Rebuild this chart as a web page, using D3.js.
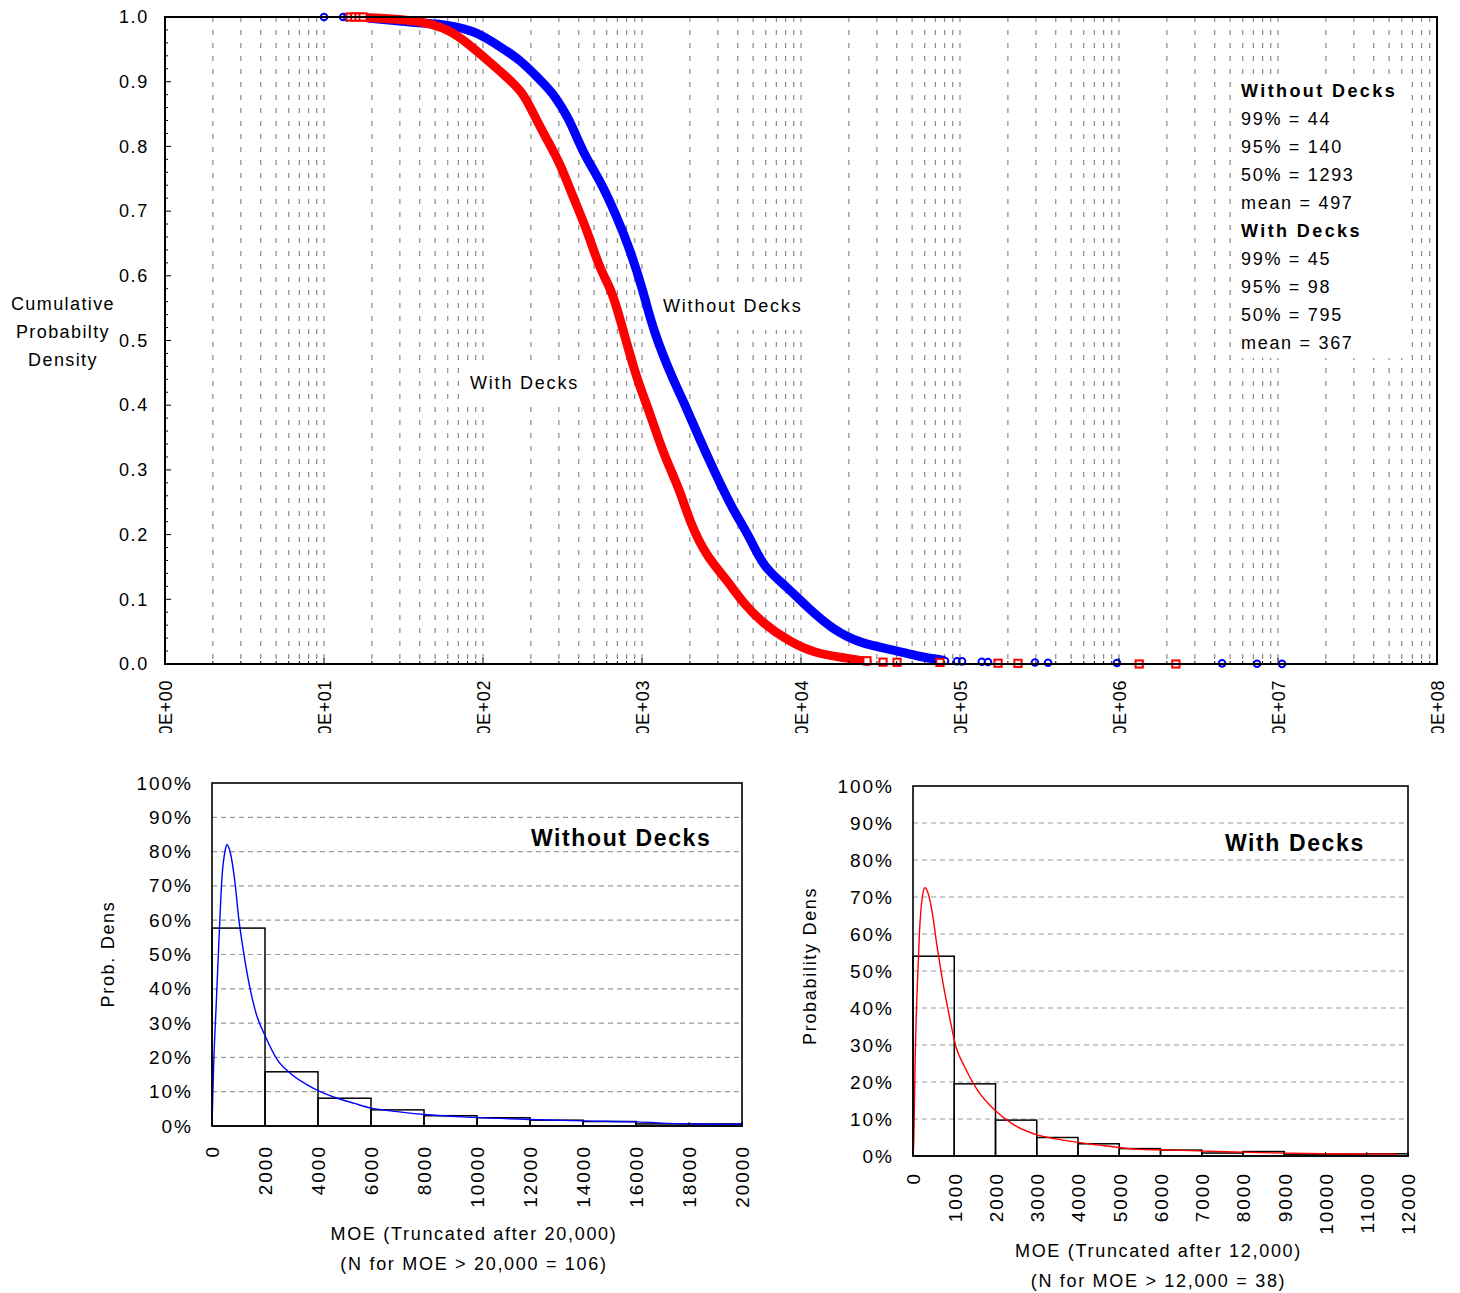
<!DOCTYPE html>
<html>
<head>
<meta charset="utf-8">
<script src="https://cdn.jsdelivr.net/npm/d3@7"></script>
<style>
body { margin: 0; background: #fff; }
svg text { font-family: Arial, "Liberation Sans", sans-serif; fill: #000; }
</style>
</head>
<body>
<svg id="chart" width="1460" height="1293"></svg>
<script>
// Exceedance curves, [MOE, cumulative probability]
var withoutDecksCdf = [[19.5,0.998],[38.5,0.991],[62,0.988],[91.7,0.977],[128,0.954],[171,0.934],[228,0.903],[275,0.883],
    [352,0.841],[425,0.790],[544,0.748],[696,0.691],[841,0.640],[1014,0.578],[1172,0.516],[1567,0.439],
    [1812,0.408],[2317,0.346],[2963,0.289],[3735,0.238],[4775,0.196],[5768,0.150],[8165,0.119],[10910,0.088],
    [15900,0.053],[23500,0.032],[37900,0.022],[56000,0.011],[78100,0.006]]
var withDecksCdf = [[18.6,0.999],[40.2,0.995],[62,0.980],[79.3,0.960],[106,0.934],[141.5,0.907],[178.5,0.883],[206,0.852],
    [253,0.810],[305,0.774],[368,0.722],[451,0.671],[544,0.609],[648,0.578],[760,0.516],[931,0.439],[1122,0.388],
    [1355,0.326],[1733,0.269],[2004,0.218],[2563,0.165],[3425,0.130],[4318,0.094],[5768,0.063],[8165,0.037],
    [11900,0.017],[19500,0.009],[26000,0.004]]

// Isolated markers at both ends of the curves
var withoutDecksPoints = [[10,1.0],[13.2,1.0],[14.0,0.9995],[80500,0.0046],[95800,0.0042],[103000,0.0040],[137000,0.0035],
    [150000,0.0032],[296000,0.0024],[358000,0.0020],[971000,0.0016],[4450000,0.0010],[7380000,0.0005],[10600000,0.0002]]
var withDecksPoints = [[14.6,1.0],[15.6,1.0],[16.6,1.0],[17.6,1.0],[26000,0.005],[32800,0.0028],[40200,0.0026],
    [74800,0.0024],[173500,0.0012],[231500,0.001],[1340000,0.0],[2280000,0.0]]

var topXTicks = [1,1e1,1e2,1e3,1e4,1e5,1e6,1e7,1e8]
var topXLabels = ["1.0E+00","1.0E+01","1.0E+02","1.0E+03","1.0E+04","1.0E+05","1.0E+06","1.0E+07","1.0E+08"]
var topYTicks = [0,0.1,0.2,0.3,0.4,0.5,0.6,0.7,0.8,0.9,1.0]

var statLines = [["Without Decks",true],["99% = 44",false],["95% = 140",false],["50% = 1293",false],["mean = 497",false],
    ["With Decks",true],["99% = 45",false],["95% = 98",false],["50% = 795",false],["mean = 367",false]]

// Histograms (bin start, height in %), and fitted density lines
var withoutBinWidth = 2000
var withoutBinStarts = [0,2000,4000,6000,8000,10000,12000,14000,16000,18000]
var withoutBinValues = [57.7,15.8,8.1,4.7,3.0,2.4,1.7,1.3,0.6,0.6]
var withoutDensity = [[0,0],[30,9],[60,17],[161,35.8],[258,53.3],[371,71.8],[500,80.5],[565,82],[694,79.6],[855,71.8],
    [1016,60.1],[1177,51.4],[1419,40.7],[1661,32.9],[2016,26.1],[2468,19.3],[2952,15.4],[3597,12.0],[4081,10.0],
    [4726,8.1],[5371,6.6],[6016,5.2],[6984,4.2],[8274,3.2],[9887,2.5],[11984,1.9],[14000,1.5],[16016,1.2],
    [17952,0.6],[20000,0.5]]
var withoutXTicks = [0,2000,4000,6000,8000,10000,12000,14000,16000,18000,20000]

var withBinWidth = 1000
var withBinStarts = [0,1000,2000,3000,4000,5000,6000,7000,8000,9000,10000,11000]
var withBinValues = [54.0,19.5,9.7,5.0,3.3,2.0,1.6,0.8,1.2,0.5,0.5,0.6]
var withDensity = [[0,0],[21,5.2],[52,26],[104,45.8],[156,60.3],[229,70.2],[291,72.5],[364,71.1],[468,65.7],[571,57.6],
    [727,46.8],[883,37.7],[1039,29.6],[1247,24.2],[1558,17.9],[1974,12.5],[2390,8.8],[3013,5.7],[3636,4.3],
    [4468,3.0],[5506,1.8],[6338,1.6],[7377,1.2],[8416,0.9],[9974,0.6],[11740,0.5]]
var withXTicks = [0,1000,2000,3000,4000,5000,6000,7000,8000,9000,10000,11000,12000]

var pctTicks = [0,10,20,30,40,50,60,70,80,90,100]

var svg = d3.select("#chart")
var defs = svg.append("defs")

function styleText(sel, size, spacing, bold) {
    sel.style("font-size", size + "px")
        .style("letter-spacing", spacing + "px")
        .style("font-weight", bold ? "bold" : "normal")
}

// ---------- top chart ----------
var x = d3.scaleLog().domain([1, 1e8]).range([165, 1437])
var y = d3.scaleLinear().domain([0, 1]).range([664, 17])

// vertical dashed grid at every log tick
svg.append("g").selectAll("line")
    .data(x.ticks().filter(d => d > 1 && d < 1e8))
    .enter().append("line")
    .attr("x1", d => x(d)).attr("x2", d => x(d))
    .attr("y1", y(1)).attr("y2", y(0))
    .style("stroke", "#8a8a8a")
    .style("stroke-width", 1.2)
    .style("stroke-dasharray", "5,8")

// white boxes behind the labels
svg.append("rect").attr("x", 1236).attr("y", 77).attr("width", 172).attr("height", 281).style("fill", "#fff")
svg.append("rect").attr("x", 656).attr("y", 287).attr("width", 153).attr("height", 43).style("fill", "#fff")
svg.append("rect").attr("x", 465).attr("y", 366).attr("width", 120).attr("height", 34).style("fill", "#fff")

var cdfLine = d3.line()
    .x(d => x(d[0]))
    .y(d => y(d[1]))
    .curve(d3.curveBasis)

function drawCdf(data, points, color, shape) {
    svg.append("path")
        .datum(data)
        .attr("d", cdfLine)
        .style("fill", "none")
        .style("stroke", color)
        .style("stroke-width", 9)
        .style("stroke-linejoin", "round")
        .style("stroke-linecap", "round")
    var g = svg.append("g")
    if (shape === "circle") {
        g.selectAll("circle").data(points).enter().append("circle")
            .attr("cx", d => x(d[0])).attr("cy", d => y(d[1])).attr("r", 3.3)
            .style("fill", "#fff").style("stroke", color).style("stroke-width", 2)
    } else {
        g.selectAll("rect").data(points).enter().append("rect")
            .attr("x", d => x(d[0]) - 3.6).attr("y", d => y(d[1]) - 3.6)
            .attr("width", 7.2).attr("height", 7.2)
            .style("fill", "#fff").style("stroke", color).style("stroke-width", 2)
    }
}
drawCdf(withoutDecksCdf, withoutDecksPoints, "#0000ff", "circle")
drawCdf(withDecksCdf, withDecksPoints, "#ff0000", "square")

// frame
svg.append("rect").attr("x", 165).attr("y", 17).attr("width", 1272).attr("height", 647)
    .style("fill", "none").style("stroke", "#000").style("stroke-width", 2)

// inward ticks
svg.append("g").selectAll("line")
    .data(d3.range(0, 51).map(i => i / 50))
    .enter().append("line")
    .attr("x1", 165).attr("x2", (d, i) => 165 + (i % 5 === 0 ? 6 : 3))
    .attr("y1", d => y(d)).attr("y2", d => y(d))
    .style("stroke", "#000").style("stroke-width", 1)
svg.append("g").selectAll("line")
    .data(x.ticks())
    .enter().append("line")
    .attr("x1", d => x(d)).attr("x2", d => x(d))
    .attr("y1", 664).attr("y2", d => topXTicks.indexOf(d) >= 0 ? 658 : 661)
    .style("stroke", "#000").style("stroke-width", 1)

// y axis labels
var yAxisG = svg.append("g")
    .attr("transform", "translate(165,0)")
    .call(d3.axisLeft(y).tickValues(topYTicks).tickFormat(d3.format(".1f")).tickSize(0).tickPadding(16))
yAxisG.attr("font-size", null).attr("font-family", null)
yAxisG.select(".domain").remove()
styleText(yAxisG.selectAll("text"), 18, 1.7, false)

// x axis labels, clipped like the original
defs.append("clipPath").attr("id", "topXClip")
    .append("rect").attr("x", 0).attr("y", 664).attr("width", 1460).attr("height", 69)
var xAxisG = svg.append("g").attr("clip-path", "url(#topXClip)")
    .append("g")
    .attr("transform", "translate(0,664)")
    .call(d3.axisBottom(x).tickValues(topXTicks).tickFormat((d, i) => topXLabels[i]).tickSize(0))
xAxisG.attr("font-size", null).attr("font-family", null)
xAxisG.select(".domain").remove()
xAxisG.selectAll("text")
    .attr("transform", "rotate(-90)")
    .attr("x", -16).attr("y", 0).attr("dy", "0.36em")
    .attr("text-anchor", "end")
styleText(xAxisG.selectAll("text"), 18, 0.6, false)

// axis title
var titleLines = ["Cumulative", "Probabilty", "Density"]
styleText(svg.append("g").selectAll("text").data(titleLines).enter().append("text")
    .attr("x", 63).attr("y", (d, i) => 310 + i * 28)
    .attr("text-anchor", "middle")
    .text(d => d), 18, 1.4, false)

// curve labels
styleText(svg.append("text").attr("x", 663).attr("y", 312).text("Without Decks"), 18, 1.8, false)
styleText(svg.append("text").attr("x", 470).attr("y", 389).text("With Decks"), 18, 1.8, false)

// statistics block
svg.append("g").selectAll("text").data(statLines).enter().append("text")
    .attr("x", 1241).attr("y", (d, i) => 97 + i * 28)
    .text(d => d[0])
    .style("font-size", "18px")
    .style("font-weight", d => d[1] ? "bold" : "normal")
    .style("letter-spacing", d => d[1] ? "2.4px" : "1.7px")

// ---------- histograms ----------
function drawHistogram(opt) {
    var hx = d3.scaleLinear().domain([0, opt.xMax]).range([opt.left, opt.right])
    var hy = d3.scaleLinear().domain([0, 100]).range([opt.bottom, opt.top])
    var g = svg.append("g")

    g.append("g").selectAll("line")
        .data(pctTicks.filter(d => d > 0 && d < 100))
        .enter().append("line")
        .attr("x1", opt.left).attr("x2", opt.right)
        .attr("y1", d => hy(d)).attr("y2", d => hy(d))
        .style("stroke", "#999").style("stroke-width", 1.2).style("stroke-dasharray", "5,4")

    g.append("g").selectAll("rect")
        .data(opt.starts)
        .enter().append("rect")
        .attr("x", d => hx(d))
        .attr("width", d => hx(d + opt.binWidth) - hx(d))
        .attr("y", (d, i) => hy(opt.values[i]))
        .attr("height", (d, i) => hy(0) - hy(opt.values[i]))
        .style("fill", "none").style("stroke", "#000").style("stroke-width", 1.5)

    g.append("path")
        .datum(opt.density)
        .attr("d", d3.line().x(d => hx(d[0])).y(d => hy(d[1])).curve(d3.curveMonotoneX))
        .style("fill", "none").style("stroke", opt.color).style("stroke-width", 1.4)

    g.append("rect")
        .attr("x", opt.left).attr("y", opt.top)
        .attr("width", opt.right - opt.left).attr("height", opt.bottom - opt.top)
        .style("fill", "none").style("stroke", "#000").style("stroke-width", 1.6)

    g.append("g").selectAll("line")
        .data(opt.xTicks)
        .enter().append("line")
        .attr("x1", d => hx(d)).attr("x2", d => hx(d))
        .attr("y1", opt.bottom).attr("y2", opt.bottom - 4)
        .style("stroke", "#000").style("stroke-width", 1)

    var ya = g.append("g")
        .attr("transform", "translate(" + opt.left + ",0)")
        .call(d3.axisLeft(hy).tickValues(pctTicks).tickFormat(d => d + "%").tickSize(0).tickPadding(19))
    ya.attr("font-size", null).attr("font-family", null)
    ya.select(".domain").remove()
    styleText(ya.selectAll("text"), 19, 2, false)

    var xa = g.append("g")
        .attr("transform", "translate(0," + opt.bottom + ")")
        .call(d3.axisBottom(hx).tickValues(opt.xTicks).tickFormat(d => d).tickSize(0))
    xa.attr("font-size", null).attr("font-family", null)
    xa.select(".domain").remove()
    xa.selectAll("text")
        .attr("transform", "rotate(-90)")
        .attr("x", -opt.labelGap).attr("y", 0).attr("dy", "0.36em")
        .attr("text-anchor", "end")
    styleText(xa.selectAll("text"), 19, 2, false)

    styleText(g.append("text").attr("x", opt.titleX).attr("y", opt.titleY).text(opt.title), 23, 1.6, true)

    var yl = g.append("g")
    if (opt.yClip) {
        defs.append("clipPath").attr("id", opt.yClip.id)
            .append("rect").attr("x", 0).attr("y", opt.yClip.y).attr("width", 1460).attr("height", 400)
        yl.attr("clip-path", "url(#" + opt.yClip.id + ")")
    }
    styleText(yl.append("text")
        .attr("transform", "translate(" + opt.yLabelX + "," + opt.yLabelY + ") rotate(-90)")
        .attr("dy", "0.36em")
        .attr("text-anchor", opt.yLabelAnchor)
        .text(opt.yLabel), 18, 1.7, false)

    styleText(g.append("g").selectAll("text").data(opt.xLabel).enter().append("text")
        .attr("x", (opt.left + opt.right) / 2 + opt.xLabelShift)
        .attr("y", (d, i) => opt.xLabelY + i * 30)
        .attr("text-anchor", "middle")
        .text(d => d), 18, 1.7, false)
}

drawHistogram({
    left: 212, right: 742, top: 783, bottom: 1126, xMax: 20000,
    starts: withoutBinStarts, values: withoutBinValues, binWidth: withoutBinWidth,
    density: withoutDensity, color: "#0000ff", xTicks: withoutXTicks, labelGap: 19,
    title: "Without Decks", titleX: 531, titleY: 846,
    yLabel: "Prob. Dens", yLabelX: 108, yLabelY: 954, yLabelAnchor: "middle",
    xLabel: ["MOE (Truncated after 20,000)", "(N for MOE > 20,000 = 106)"], xLabelY: 1240, xLabelShift: -3
})

drawHistogram({
    left: 913, right: 1408, top: 786, bottom: 1156, xMax: 12000,
    starts: withBinStarts, values: withBinValues, binWidth: withBinWidth,
    density: withDensity, color: "#ff0000", xTicks: withXTicks, labelGap: 16,
    title: "With Decks", titleX: 1225, titleY: 851,
    yLabel: "Probability Density", yLabelX: 810, yLabelY: 1045, yLabelAnchor: "start",
    yClip: {id: "rightYClip", y: 888},
    xLabel: ["MOE (Truncated after 12,000)", "(N for MOE > 12,000 = 38)"], xLabelY: 1257, xLabelShift: -2
})
</script>
</body>
</html>
